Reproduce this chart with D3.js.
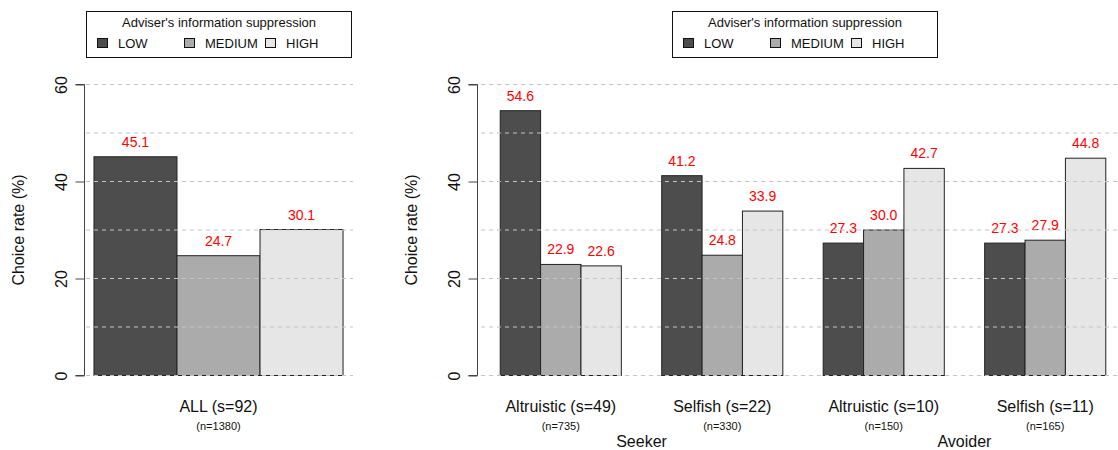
<!DOCTYPE html>
<html>
<head>
<meta charset="utf-8">
<script src="https://cdn.jsdelivr.net/npm/d3@7"></script>
<style>
  html, body { margin: 0; padding: 0; background: #fff; }
  svg { display: block; font-family: "Liberation Sans", Arial, Helvetica, sans-serif; }
</style>
</head>
<body>
<svg id="chart" width="1118" height="450"></svg>
<script>
// ---- data ----
const seriesNames = ["LOW", "MEDIUM", "HIGH"];
const seriesColors = ["#4d4d4d", "#ababab", "#e6e6e6"];
const legendTitle = "Adviser's information suppression";
const yTitle = "Choice rate (%)";
const yTicks = [0, 20, 40, 60];
const gridValues = [0, 10, 20, 30, 40, 50, 60];

const allCategory = ["ALL (s=92)"];
const allSample = ["(n=1380)"];
const allValues = [45.1, 24.7, 30.1];

const categories = ["Altruistic (s=49)", "Selfish (s=22)", "Altruistic (s=10)", "Selfish (s=11)"];
const sampleSizes = ["(n=735)", "(n=330)", "(n=150)", "(n=165)"];
const lowValues = [54.6, 41.2, 27.3, 27.3];
const mediumValues = [22.9, 24.8, 30.0, 27.9];
const highValues = [22.6, 33.9, 42.7, 44.8];
const groupLabels = ["Seeker", "Avoider"];

// ---- drawing ----
const svg = d3.select("#chart");
const y = d3.scaleLinear().domain([0, 60]).range([375.5, 84.5]);

function panel(opts) {
  const { x, groups, axisX, gridX1, gridX2, legendX, yTitleX } = opts;
  const g = svg.append("g");

  // bars
  groups.forEach((grp, i) => {
    grp.values.forEach((v, j) => {
      const left = 1 + i * 4 + j;
      g.append("rect")
        .attr("x", x(left))
        .attr("y", y(v))
        .attr("width", x(left + 1) - x(left))
        .attr("height", y(0) - y(v))
        .attr("fill", seriesColors[j])
        .attr("stroke", "#222")
        .attr("stroke-width", 1);
      g.append("text")
        .attr("x", (x(left) + x(left + 1)) / 2)
        .attr("y", y(v) - 10)
        .attr("text-anchor", "middle")
        .attr("font-size", 14)
        .attr("fill", "#ff0000")
        .text(v.toFixed(1));
    });
    const cx = x(1 + i * 4 + 1.5);
    g.append("text").attr("x", cx).attr("y", 412).attr("text-anchor", "middle")
      .attr("font-size", 16).attr("fill", "#111").text(grp.label);
    g.append("text").attr("x", cx).attr("y", 430).attr("text-anchor", "middle")
      .attr("font-size", 11).attr("fill", "#111").text(grp.n);
  });

  // grid (drawn over bars)
  g.selectAll(".grid").data(gridValues).enter().append("line")
    .attr("x1", gridX1).attr("x2", gridX2)
    .attr("y1", d => y(d)).attr("y2", d => y(d))
    .attr("stroke", "#c4c4c4").attr("stroke-width", 1)
    .attr("stroke-dasharray", "4,4");

  // y axis
  const axis = d3.axisLeft(y).tickValues(yTicks).tickSize(9).tickPadding(8).tickFormat(d3.format("d"));
  const ag = g.append("g").attr("transform", `translate(${axisX},0)`).call(axis);
  ag.select(".domain").attr("stroke", "#444").attr("d", `M-9,${y(60)}H0V${y(0)}H-9`);
  ag.selectAll(".tick line").attr("stroke", "#444");
  ag.selectAll(".tick text")
    .attr("font-size", 16).attr("fill", "#111")
    .attr("font-family", "Liberation Sans, Arial, sans-serif")
    .attr("text-anchor", "middle")
    .attr("x", null).attr("dy", null)
    .attr("transform", "translate(-23,0) rotate(-90)")
    .attr("y", 0).attr("dy", "0.35em");

  // y title
  g.append("text")
    .attr("transform", `translate(${yTitleX},230) rotate(-90)`)
    .attr("text-anchor", "middle").attr("dy", "0.35em")
    .attr("font-size", 16).attr("fill", "#111").text(yTitle);

  // legend
  const lg = g.append("g").attr("transform", `translate(${legendX},11)`);
  lg.append("rect").attr("x", 0.5).attr("y", 0.5).attr("width", 265).attr("height", 46)
    .attr("fill", "#fff").attr("stroke", "#111").attr("stroke-width", 1);
  lg.append("text").attr("x", 133).attr("y", 16).attr("text-anchor", "middle")
    .attr("font-size", 13).attr("fill", "#111").text(legendTitle);
  const entryX = [11, 98, 179];
  seriesNames.forEach((s, j) => {
    lg.append("rect").attr("x", entryX[j] + 0.5).attr("y", 27.5).attr("width", 10).attr("height", 9)
      .attr("fill", seriesColors[j]).attr("stroke", "#111");
    lg.append("text").attr("x", entryX[j] + 21).attr("y", 37)
      .attr("font-size", 13).attr("fill", "#111").text(s);
  });
  return g;
}

// left panel
const xLeft = d3.scaleLinear().domain([0.88, 4.12]).range([84, 353]);
panel({
  x: xLeft,
  groups: [{ label: allCategory[0], n: allSample[0], values: allValues }],
  axisX: 84.5, gridX1: 86, gridX2: 353, legendX: 86, yTitleX: 18
});

// right panel
const xRight = d3.scaleLinear().domain([0.4, 16.6]).range([476, 1130]);
const rightGroups = categories.map((c, i) => ({
  label: c, n: sampleSizes[i], values: [lowValues[i], mediumValues[i], highValues[i]]
}));
const rp = panel({
  x: xRight, groups: rightGroups,
  axisX: 477.5, gridX1: 481, gridX2: 1118, legendX: 672, yTitleX: 411
});
groupLabels.forEach((lab, k) => {
  const cx = (xRight(1 + (2 * k) * 4 + 1.5) + xRight(1 + (2 * k + 1) * 4 + 1.5)) / 2;
  rp.append("text").attr("x", cx).attr("y", 447).attr("text-anchor", "middle")
    .attr("font-size", 16).attr("fill", "#111").text(lab);
});
</script>
</body>
</html>
